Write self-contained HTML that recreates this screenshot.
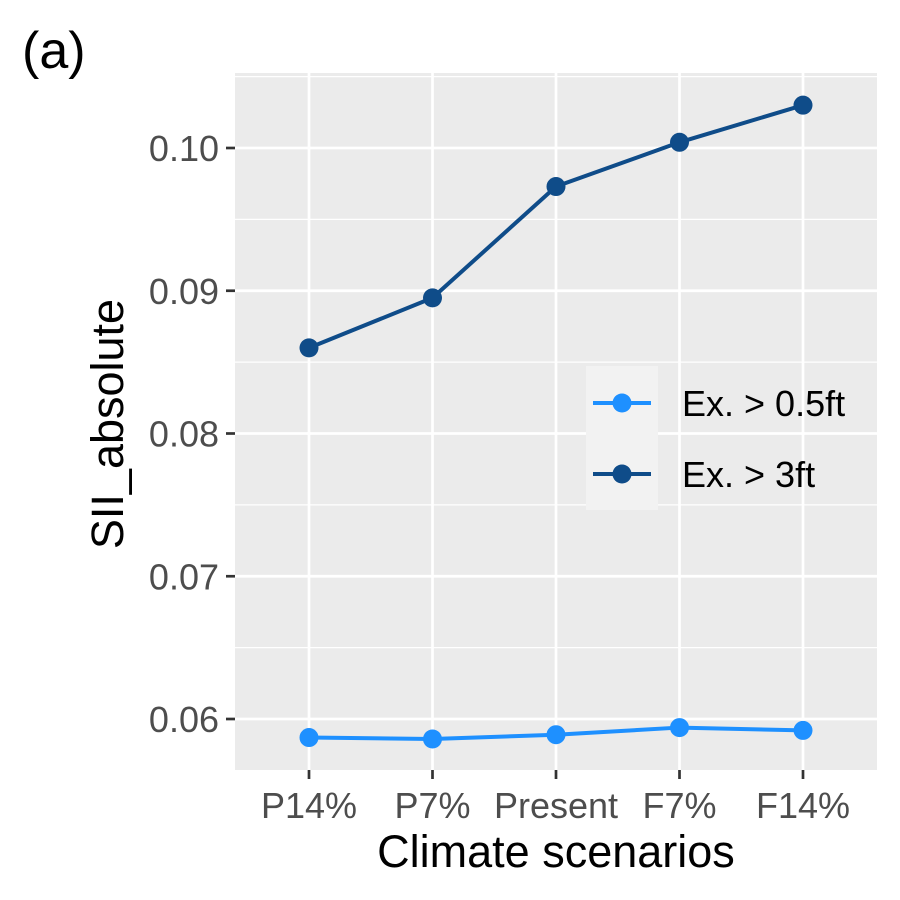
<!DOCTYPE html>
<html><head><meta charset="utf-8"><style>body{margin:0;background:#fff}svg{display:block}text{font-family:"Liberation Sans",Arial,sans-serif}</style></head>
<body>
<svg id="c" width="900" height="900" viewBox="0 0 900 900">
<text x="22" y="68" font-size="52">(a)</text>
<rect x="235" y="73" width="642" height="697" fill="#EBEBEB"/>
<g id="grid"></g><g id="series"></g><g id="axes"></g>
<g id="legend">
<rect x="586" y="366" width="72" height="144" fill="#F2F2F2"/>
<line x1="593" y1="403" x2="651" y2="403" stroke="#1E90FF" stroke-width="4"/>
<circle cx="622" cy="403" r="9.5" fill="#1E90FF"/>
<text x="682" y="416" font-size="36">Ex. &gt; 0.5ft</text>
<line x1="593" y1="474" x2="651" y2="474" stroke="#0F4C89" stroke-width="4"/>
<circle cx="622" cy="474" r="9.5" fill="#0F4C89"/>
<text x="682" y="487" font-size="36">Ex. &gt; 3ft</text>
</g>
<text x="556" y="867" font-size="45" text-anchor="middle">Climate scenarios</text>
<text transform="translate(123,424) rotate(-90)" font-size="45" text-anchor="middle">SII_absolute</text>
</svg>
<script>
const categories=["P14%","P7%","Present","F7%","F14%"];
const seriesLow=[0.0587,0.0586,0.0589,0.0594,0.0592];
const seriesHigh=[0.0860,0.0895,0.0973,0.1004,0.1030];
const yTicks=[0.06,0.07,0.08,0.09,0.10];
const yTickLabels=["0.06","0.07","0.08","0.09","0.10"];
const yMinor=[0.055,0.065,0.075,0.085,0.095,0.105];
const NS="http://www.w3.org/2000/svg";
function x(i){return 309+i*123.5;}
function y(v){return 148+(0.10-v)*14275;}
function mk(t,a,p){const e=document.createElementNS(NS,t);for(const k in a)e.setAttribute(k,a[k]);p.appendChild(e);return e;}
const g=document.getElementById('grid'),s=document.getElementById('series'),ax=document.getElementById('axes');
yMinor.forEach(v=>{const yy=y(v);if(yy<73||yy>770)return;const l=mk('line',{x1:235,x2:877,y1:yy,y2:yy,stroke:'#fff','stroke-width':1.3},g);

});
yTicks.forEach((v,i)=>{const yy=y(v);const l=mk('line',{x1:235,x2:877,y1:yy,y2:yy,stroke:'#fff','stroke-width':2.7},g);


const t=mk('line',{x1:226,x2:235,y1:yy,y2:yy,stroke:'#333','stroke-width':2.7},ax);


const tx=mk('text',{x:219,y:yy+13,'font-size':36,fill:'#4D4D4D','text-anchor':'end'},ax);tx.textContent=yTickLabels[i];

});
categories.forEach((c,i)=>{const xx=x(i);const l=mk('line',{x1:xx,x2:xx,y1:73,y2:770,stroke:'#fff','stroke-width':2.7},g);


const t=mk('line',{x1:xx,x2:xx,y1:770,y2:779,stroke:'#333','stroke-width':2.7},ax);


const tx=mk('text',{x:xx,y:818,'font-size':36,fill:'#4D4D4D','text-anchor':'middle'},ax);tx.textContent=c;

});
function draw(vals,col,name){const pl=mk('polyline',{points:vals.map((v,i)=>x(i)+','+y(v)).join(' '),fill:'none',stroke:col,'stroke-width':4},s);


vals.forEach((v,i)=>{const c=mk('circle',{cx:x(i),cy:y(v),r:9.5,fill:col},s);

});}
draw(seriesLow,'#1E90FF','low');
draw(seriesHigh,'#0F4C89','high');
</script>
</body></html>
